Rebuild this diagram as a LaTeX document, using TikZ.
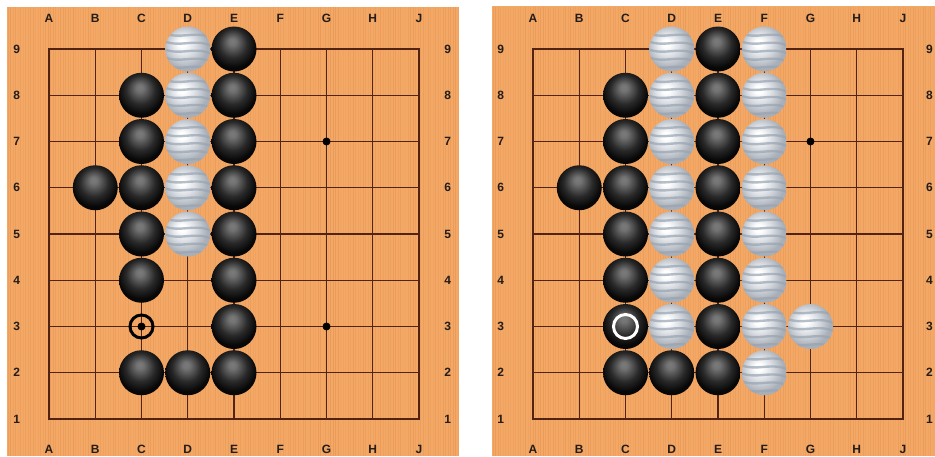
\documentclass[tikz,border=0pt]{standalone}
\usepackage{fontspec}
\setmainfont{Liberation Sans}
\definecolor{wood}{HTML}{F4A865}
\definecolor{woodgrain}{HTML}{D98646}
\definecolor{gridline}{HTML}{522212}
\definecolor{labelink}{HTML}{241C18}
\definecolor{stripe}{HTML}{98A4B1}
\definecolor{whitebody}{HTML}{DCE0E5}
\definecolor{whiteedge}{HTML}{A9AFB8}
\pgfdeclareradialshading{whitestone}{\pgfqpoint{-7bp}{7bp}}{color(0bp)=(white); color(4bp)=(white); color(13bp)=(whitebody); color(25bp)=(whiteedge); color(50bp)=(whiteedge)}
\pgfdeclareradialshading{blackstone}{\pgfqpoint{-2bp}{9bp}}{color(0bp)=(black!52); color(4bp)=(black!55); color(16bp)=(black!84); color(25bp)=(black!97); color(50bp)=(black)}

\begin{document}
\begin{tikzpicture}[x=1pt,y=-1pt,
    stone/.style={circle,inner sep=0pt,minimum size=45pt},
    bstone/.style={stone,shading=blackstone},
    wstone/.style={stone,shading=whitestone,
      path picture={\foreach \k in {-16,-8,0,8,16}
        \draw[stripe,line width=2.4pt,opacity=0.7,shift={(path picture bounding box.center)}]
          (-24,\k) .. controls (-8,{\k+7}) and (8,{\k-3}) .. (24,{\k+5});}},
    grid/.style={draw=gridline,line width=1.3pt,line cap=rect},
    coord/.style={font=\fontsize{12}{12}\selectfont\bfseries,text=labelink,inner sep=0pt},
    hoshi/.style={circle,fill=black,inner sep=0pt,minimum size=8pt},
    markring/.style={circle,inner sep=0pt,line width=3pt,minimum size=23pt}]
  \useasboundingbox (0,0) rectangle (935,456);
  % wooden boards
  \fill[wood] (7,7) rectangle (459,456);
  \fill[wood] (492,6) rectangle (935,456);
  \pgfmathsetseed{11}
  \foreach \x in {8,10.5,...,458,493,495.5,...,935}{
    \pgfmathsetmacro\op{0.08+0.3*rnd}
    \draw[woodgrain,line width=0.7pt,opacity=\op] (\x,7) -- (\x,456);
  }
  % grids, coordinates and labels
  \foreach \side/\ox/\rx in {L/2.75/9.62, R/486.75/9.57}{
    \begin{scope}[shift={(\ox,465.25)},x=46.25pt,y=46.25pt]
      \foreach \l [count=\c] in {A,B,C,D,E,F,G,H,J}{
        \foreach \r in {1,...,9}
          \coordinate (\side-\l\r) at (\c,\r);
        \node[coord] (\side-top-\l) at (\c,9.67) {\l};
        \node[coord] (\side-bot-\l) at (\c,0.35) {\l};
      }
      \foreach \r in {1,...,9}{
        \node[coord] (\side-left-\r) at (0.3,\r) {\r};
        \node[coord] (\side-right-\r) at (\rx,\r) {\r};
      }
      \foreach \l in {A,B,C,D,E,F,G,H,J}
        \draw[grid] (\side-\l1) -- (\side-\l9);
      \foreach \r in {1,...,9}
        \draw[grid] (\side-A\r) -- (\side-J\r);
    \end{scope}
  }
  % left board
  \node[hoshi] (L-star-G7) at (L-G7) {};
  \node[hoshi] (L-star-G3) at (L-G3) {};
  \foreach \p in {E9,C8,E8,C7,E7,B6,C6,E6,C5,E5,C4,E4,E3,C2,D2,E2}
    \node[bstone] (Lb-\p) at (L-\p) {};
  \foreach \p in {D9,D8,D7,D6,D5}
    \node[wstone] (Lw-\p) at (L-\p) {};
  \node[markring,draw=black] (L-mark) at (L-C3) {};
  \node[hoshi] (L-mark-dot) at (L-C3) {};
  % right board
  \node[hoshi] (R-star-G7) at (R-G7) {};
  \foreach \p in {E9,C8,E8,C7,E7,B6,C6,E6,C5,E5,C4,E4,C3,E3,C2,D2,E2}
    \node[bstone] (Rb-\p) at (R-\p) {};
  \foreach \p in {D9,F9,D8,F8,D7,F7,D6,F6,D5,F5,D4,F4,D3,F3,G3,F2}
    \node[wstone] (Rw-\p) at (R-\p) {};
  \node[markring,draw=white,minimum size=24pt] (R-mark) at (R-C3) {};
\end{tikzpicture}
\end{document}
